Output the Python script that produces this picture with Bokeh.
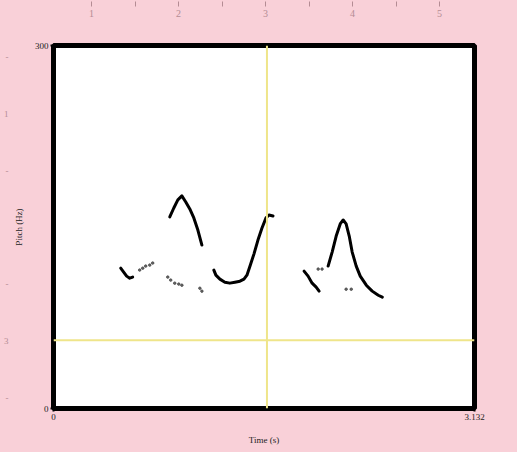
from bokeh.plotting import figure
from bokeh.models import Span, FixedTicker, Range1d, LinearAxis
from bokeh.embed import file_html
from bokeh.resources import INLINE

# ---- data (time in s, pitch in Hz) ----
t_end = 3.132
hz_max = 300
x_tick_labels = ["0", "3.132"]
y_tick_labels = ["0", "300"]

seg1_t = [0.500, 0.522, 0.544, 0.567, 0.589]
seg1_hz = [116.0, 112.7, 109.4, 107.7, 108.6]

seg2_t = [0.865, 0.895, 0.925, 0.955, 0.984, 1.014, 1.044, 1.074, 1.104]
seg2_hz = [158.3, 165.7, 172.4, 175.7, 170.7, 164.9, 157.5, 147.5, 135.1]

seg3_t = [1.193, 1.208, 1.238, 1.275, 1.312, 1.350, 1.387, 1.417, 1.439,
          1.462, 1.491, 1.521, 1.551, 1.581, 1.603, 1.633]
seg3_hz = [114.4, 110.2, 106.9, 104.4, 103.6, 104.4, 105.2, 106.9, 110.2,
           117.7, 127.6, 139.2, 149.2, 157.5, 159.9, 159.1]

seg4_t = [1.864, 1.894, 1.924, 1.954, 1.976]
seg4_hz = [113.5, 109.4, 103.6, 100.3, 97.0]

seg5_t = [2.043, 2.073, 2.103, 2.133, 2.155, 2.177, 2.200, 2.222, 2.252,
          2.282, 2.327, 2.371, 2.416, 2.446]
seg5_hz = [117.7, 129.3, 142.5, 152.5, 155.8, 152.5, 142.5, 129.3, 117.7,
           109.4, 101.9, 97.0, 93.6, 92.0]

dots_t = [0.641, 0.664, 0.686, 0.716, 0.738, 0.850, 0.872, 0.902, 0.932,
          0.955, 1.089, 1.104, 1.969, 1.998, 2.177, 2.215]
dots_hz = [114.4, 116.0, 117.7, 118.5, 120.2, 108.6, 106.1, 103.6, 102.8,
           101.9, 99.4, 97.0, 115.2, 115.2, 98.6, 98.6]

cursor_t = 1.588
cursor_hz = 56.4

# Praat picture-window rulers (inches)
ruler_top_labels = ["1", "2", "3", "4", "5"]
ruler_left_labels = {1: "1", 3: "3"}

PINK = "#f9d0d8"
YELLOW = "#efe58a"
RULER = "#b48c94"
SERIF = "Liberation Serif"

p = figure(title=None, frame_width=421, frame_height=363,
           x_range=Range1d(0, t_end), y_range=Range1d(0, hz_max),
           output_backend="svg", toolbar_location=None,
           min_border_left=52, min_border_right=44,
           min_border_top=45, min_border_bottom=44)
p.background_fill_color = "white"
p.border_fill_color = PINK
p.outline_line_color = "black"
p.outline_line_width = 5
p.xgrid.visible = False
p.ygrid.visible = False

# main axes
xa = p.xaxis[0]
xa.ticker = FixedTicker(ticks=[0, t_end])
xa.major_label_overrides = {0: x_tick_labels[0], t_end: x_tick_labels[1]}
ya = p.yaxis[0]
ya.ticker = FixedTicker(ticks=[0, hz_max])
ya.major_label_overrides = {0: y_tick_labels[0], hz_max: y_tick_labels[1]}
for ax in (xa, ya):
    ax.axis_line_color = None
    ax.minor_tick_line_color = None
    ax.major_tick_in = 0
    ax.major_tick_out = 3
    ax.major_tick_line_width = 2
    ax.major_tick_line_color = "black"
    ax.major_label_text_font = SERIF
    ax.major_label_text_font_size = "9px"
    ax.major_label_text_color = "#222222"
    ax.major_label_standoff = 2
    ax.axis_label_text_font = SERIF
    ax.axis_label_text_font_size = "9px"
    ax.axis_label_text_font_style = "normal"
    ax.axis_label_text_color = "#222222"
xa.axis_label = "Time (s)"
xa.axis_label_standoff = 12
ya.axis_label = "Pitch (Hz)"
ya.axis_label_standoff = 8

# ruler ranges (inch scale of the picture window)
top_px_per_in, top_origin = 87.0, 3.0
left_px_per_in, left_origin = 113.5, 0.0
frame_l, frame_t, frame_r, frame_b = 52, 45, 473, 408
p.extra_x_ranges = {"rx": Range1d((frame_l - top_origin) / top_px_per_in,
                                  (frame_r - top_origin) / top_px_per_in)}
p.extra_y_ranges = {"ry": Range1d((frame_b - left_origin) / left_px_per_in,
                                  (frame_t - left_origin) / left_px_per_in)}

def ruler_style(ax):
    ax.axis_line_color = None
    ax.major_tick_line_color = None
    ax.minor_tick_line_color = None
    ax.major_tick_in = 0
    ax.major_tick_out = 0
    ax.minor_tick_in = 0
    ax.minor_tick_out = 0
    ax.major_label_text_font = SERIF
    ax.major_label_text_font_size = "10px"
    ax.major_label_text_color = RULER

# top ruler: numbers
top_nums = LinearAxis(x_range_name="rx")
ruler_style(top_nums)
top_nums.ticker = FixedTicker(ticks=[1, 2, 3, 4, 5])
top_nums.major_label_overrides = {i + 1: s for i, s in enumerate(ruler_top_labels)}
top_nums.major_label_standoff = 29
p.add_layout(top_nums, "above")
# top ruler: tick marks
top_ticks = LinearAxis(x_range_name="rx")
top_ticks.axis_line_color = None
top_ticks.minor_tick_line_color = None
top_ticks.minor_tick_in = 0
top_ticks.minor_tick_out = 0
top_ticks.ticker = FixedTicker(ticks=[1, 1.5, 2, 2.5, 3, 3.5, 4, 4.5, 5])
top_ticks.major_label_overrides = {v: "" for v in [1, 1.5, 2, 2.5, 3, 3.5, 4, 4.5, 5]}
top_ticks.major_label_text_font_size = "0px"
top_ticks.major_label_standoff = 0
top_ticks.major_tick_in = 0
top_ticks.major_tick_out = 5
top_ticks.major_tick_line_color = RULER
top_ticks.major_tick_line_width = 1
p.add_layout(top_ticks, "above")

# left ruler
left_r = LinearAxis(y_range_name="ry")
ruler_style(left_r)
left_vals = [0.5, 1, 1.5, 2.5, 3, 3.5]
left_r.ticker = FixedTicker(ticks=left_vals)
left_r.major_label_overrides = {v: ruler_left_labels.get(v, "-") for v in left_vals}
left_r.major_label_standoff = 2
left_r.major_label_text_font_size = "9px"
p.add_layout(left_r, "left")

# cursor lines (yellow)
p.add_layout(Span(location=cursor_t, dimension="height", line_color=YELLOW, line_width=2))
p.add_layout(Span(location=cursor_hz, dimension="width", line_color=YELLOW, line_width=2))

# pitch contour
for ts, hs in [(seg1_t, seg1_hz), (seg2_t, seg2_hz), (seg3_t, seg3_hz),
               (seg4_t, seg4_hz), (seg5_t, seg5_hz)]:
    p.line(ts, hs, line_color="black", line_width=3, line_join="round", line_cap="round")
p.scatter(dots_t, dots_hz, size=2.5, color="#444444", alpha=0.8)

tmpl = """{% block postamble %}<style>html,body{background:#f9d0d8;}</style>{% endblock %}"""
try:
    html = file_html(p, INLINE, template=tmpl)
except Exception:
    html = file_html(p, INLINE)
open("out.html", "w").write(html)
